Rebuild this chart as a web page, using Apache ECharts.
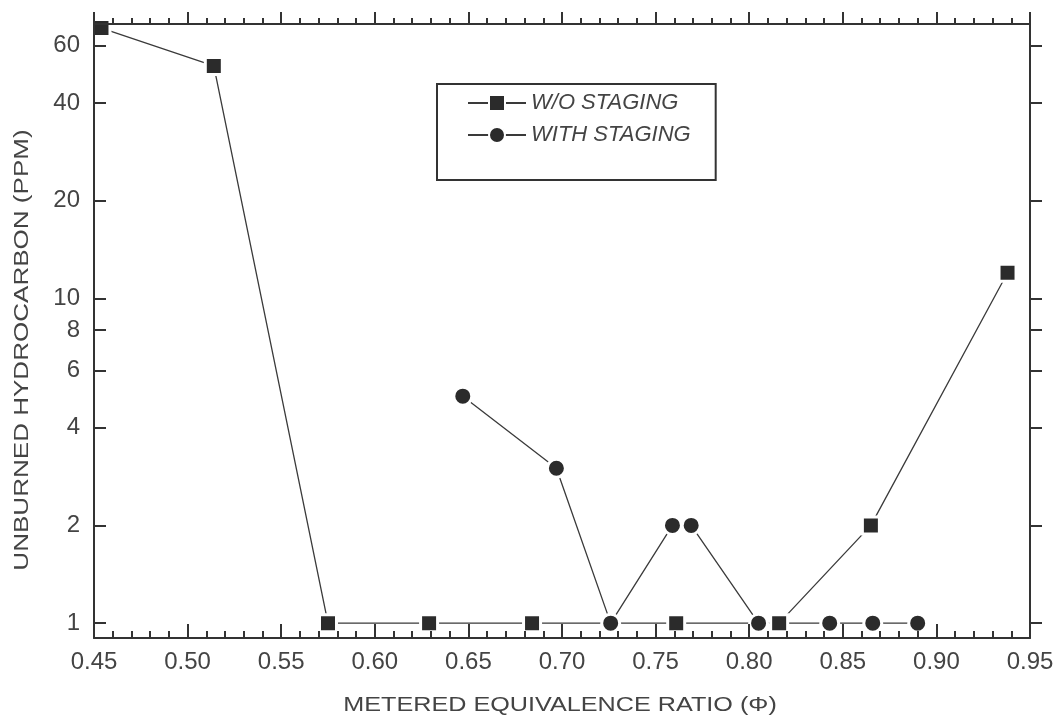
<!DOCTYPE html>
<html>
<head>
<meta charset="utf-8">
<script src="https://cdn.jsdelivr.net/npm/echarts@6/dist/echarts.min.js"></script>
<style>
  html, body { margin: 0; padding: 0; background: #fff; }
  #chart { width: 1063px; height: 725px; }
</style>
</head>
<body>
<div id="chart"></div>
<script>
// Metered equivalence ratio vs. unburned hydrocarbon emissions
const phiNoStaging = [0.454, 0.514, 0.575, 0.629, 0.684, 0.761, 0.816, 0.865, 0.938];
const hcNoStaging  = [68, 52, 1, 1, 1, 1, 1, 2, 12];
const phiStaging   = [0.647, 0.697, 0.726, 0.759, 0.769, 0.805, 0.843, 0.866, 0.890];
const hcStaging    = [5, 3, 1, 2, 2, 1, 1, 1, 1];
const yTickValues  = [1, 2, 4, 6, 8, 10, 20, 40, 60];
const seriesNames  = ['W/O STAGING', 'WITH STAGING'];

const FONT = 'Liberation Sans';
const INK = '#333';
const TEXT = '#444';

const pairs = (xs, ys) => xs.map((x, i) => [x, ys[i]]);

const frameLine = { show: true, lineStyle: { color: INK, width: 2 } };
const tickLine = { color: INK, width: 2 };

const chart = echarts.init(document.getElementById('chart'), null, { renderer: 'canvas' });

chart.setOption({
  backgroundColor: '#fff',
  animation: false,
  grid: { left: 94, top: 24, right: 33, bottom: 87, containLabel: false },
  xAxis: [
    {
      type: 'value', position: 'bottom', min: 0.45, max: 0.95, interval: 0.05, z: 5,
      axisLine: frameLine,
      axisTick: { show: true, inside: true, length: 14, lineStyle: tickLine },
      minorTick: { show: true, splitNumber: 5, length: 7, lineStyle: tickLine },
      splitLine: { show: false }, minorSplitLine: { show: false },
      axisLabel: {
        margin: 12, fontFamily: FONT, fontSize: 24, color: TEXT,
        formatter: v => v.toFixed(2)
      }
    },
    {
      type: 'value', position: 'top', min: 0.45, max: 0.95, interval: 0.05, z: 5,
      axisLine: frameLine,
      axisTick: { show: true, inside: false, length: 12, lineStyle: tickLine },
      minorTick: { show: true, splitNumber: 5, length: 6, lineStyle: tickLine },
      splitLine: { show: false }, minorSplitLine: { show: false },
      axisLabel: { show: false }
    }
  ],
  yAxis: [
    {
      type: 'log', logBase: 10, position: 'left', min: 0.9, max: 70, z: 5,
      axisLine: frameLine,
      axisTick: { show: true, inside: true, length: 12, lineStyle: tickLine, customValues: yTickValues },
      axisLabel: {
        margin: 14, fontFamily: FONT, fontSize: 24, color: TEXT,
        customValues: yTickValues, formatter: v => String(Math.round(v))
      },
      splitLine: { show: false }, minorTick: { show: false }
    },
    {
      type: 'log', logBase: 10, position: 'right', min: 0.9, max: 70, z: 5,
      axisLine: frameLine,
      axisTick: { show: true, inside: false, length: 12, lineStyle: tickLine, customValues: yTickValues },
      axisLabel: { show: false, customValues: yTickValues },
      splitLine: { show: false }, minorTick: { show: false }
    }
  ],
  legend: {
    orient: 'vertical', left: 437, top: 84,
    data: seriesNames,
    itemWidth: 58, itemHeight: 20, itemGap: 10,
    padding: [8, 25, 34, 30],
    borderColor: INK, borderWidth: 2,
    textStyle: { fontFamily: FONT, fontStyle: 'italic', fontSize: 22, color: TEXT }
  },
  graphic: [
    {
      type: 'text', x: 560, y: 705, scaleX: 1.26, silent: true,
      style: {
        text: 'METERED EQUIVALENCE RATIO (Φ)', fill: TEXT,
        font: '20px "' + FONT + '"', align: 'center', verticalAlign: 'middle'
      }
    },
    {
      type: 'text', x: 22, y: 350, rotation: Math.PI / 2, scaleX: 1.24, silent: true,
      style: {
        text: 'UNBURNED HYDROCARBON (PPM)', fill: TEXT,
        font: '21px "' + FONT + '"', align: 'center', verticalAlign: 'middle'
      }
    }
  ],
  series: [
    {
      name: seriesNames[0], type: 'line', xAxisIndex: 0, yAxisIndex: 0,
      data: pairs(phiNoStaging, hcNoStaging),
      symbol: 'rect', symbolSize: 17, clip: false,
      lineStyle: { color: '#3a3a3a', width: 1.3 },
      itemStyle: { color: '#2b2b2b', borderColor: '#fff', borderWidth: 3 }
    },
    {
      name: seriesNames[1], type: 'line', xAxisIndex: 0, yAxisIndex: 0,
      data: pairs(phiStaging, hcStaging),
      symbol: 'circle', symbolSize: 18, clip: false,
      lineStyle: { color: '#3a3a3a', width: 1.3 },
      itemStyle: { color: '#2b2b2b', borderColor: '#fff', borderWidth: 3 }
    }
  ]
});
</script>
</body>
</html>
